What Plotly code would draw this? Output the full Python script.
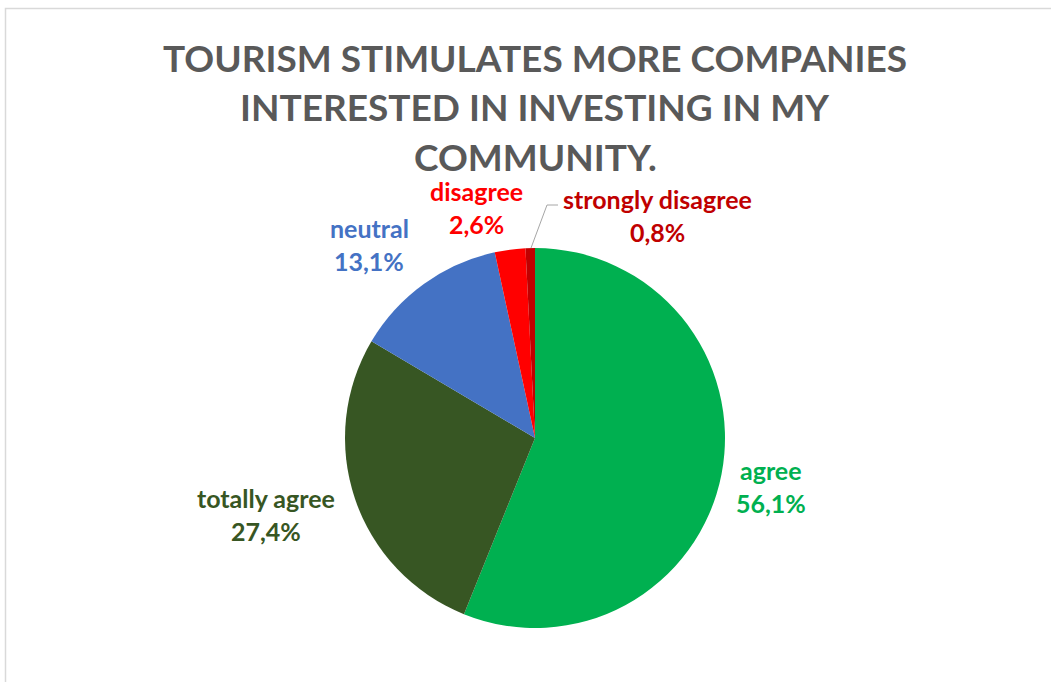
import plotly.graph_objects as go

# Survey responses
categories = ["agree", "totally agree", "neutral", "disagree", "strongly disagree"]
shares = [56.1, 27.4, 13.1, 2.6, 0.8]
colors = ["#00B050", "#375623", "#4472C4", "#FF0000", "#C00000"]
title_lines = ["TOURISM STIMULATES MORE COMPANIES", "INTERESTED IN INVESTING IN MY", "COMMUNITY."]

W, H = 1051, 682
FONT = "Lato"

fig = go.Figure(
    go.Pie(
        labels=categories,
        values=shares,
        sort=False,
        direction="clockwise",
        rotation=0,
        marker=dict(colors=colors, line=dict(width=0)),
        textinfo="none",
        hoverinfo="label+percent",
        showlegend=False,
        domain=dict(x=[345 / W, 725 / W], y=[54 / H, 434 / H]),
    )
)

# label anchor points (pixel centres of each label's two lines)
label_pos = {
    "agree": (771, 470),
    "totally agree": (266, 498),
    "neutral": (369, 228),
    "disagree": (476, 191),
    "strongly disagree": (657, 199),
}
LINE_GAP = 33

annotations = []
for cat, val, col in zip(categories, shares, colors):
    px, py = label_pos[cat]
    pct = f"{val:.1f}%".replace(".", ",")
    for k, txt in enumerate([cat, pct]):
        annotations.append(
            dict(
                x=px / W, y=1 - (py + k * LINE_GAP) / H, xref="paper", yref="paper",
                text=f"<b>{txt}</b>",
                showarrow=False,
                font=dict(family=FONT, size=25, color=col),
                xanchor="center", yanchor="middle", align="center",
                borderpad=0,
            )
        )

title_y = [57, 107, 156]
for line, ty in zip(title_lines, title_y):
    annotations.append(
        dict(
            x=535 / W, y=1 - ty / H, xref="paper", yref="paper",
            text=f"<b>{line}</b>", showarrow=False,
            font=dict(family=FONT, size=37, color="#595959"),
            xanchor="center", yanchor="middle", borderpad=0,
        )
    )

shapes = [
    # chart frame
    dict(type="rect", xref="paper", yref="paper",
         x0=5.5 / W, x1=1.02, y0=-0.02, y1=1 - 8.5 / H,
         line=dict(color="#D9D9D9", width=1.5), fillcolor="rgba(0,0,0,0)", layer="below"),
    # leader line for the smallest slice
    dict(type="path", xref="paper", yref="paper",
         path=f"M {558 / W} {1 - 205 / H} L {547 / W} {1 - 205 / H} L {531 / W} {1 - 248 / H}",
         line=dict(color="#A6A6A6", width=1)),
]

fig.update_layout(
    width=W, height=H,
    margin=dict(l=0, r=0, t=0, b=0),
    paper_bgcolor="white",
    plot_bgcolor="white",
    font=dict(family=FONT),
    annotations=annotations,
    shapes=shapes,
)

fig.write_html("out.html")
